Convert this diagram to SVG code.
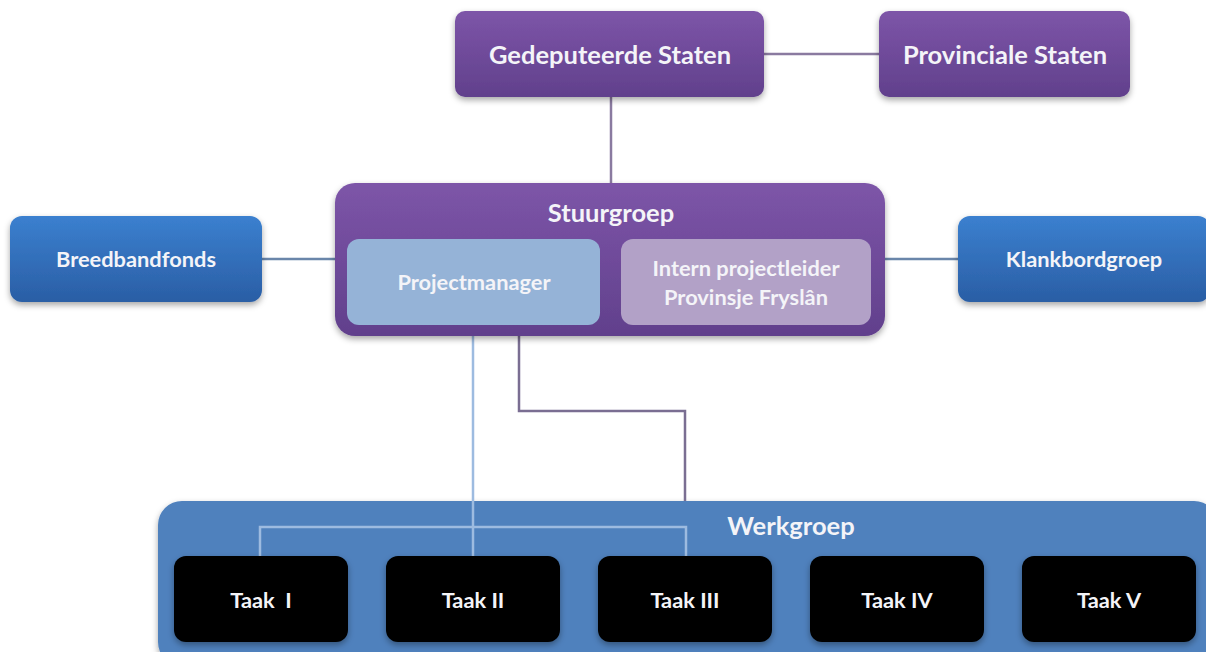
<svg xmlns="http://www.w3.org/2000/svg" width="1206" height="652" viewBox="0 0 1206 652">
<style>
  text { font-family: Lato, "Open Sans", "Liberation Sans", sans-serif; font-weight: bold; fill: #f4f4f8; text-anchor: middle; }
  .t25 { font-size: 25.5px; }
  .t22 { font-size: 21.8px; }
  .conn { fill: none; stroke-width: 2.5; }
</style>
<defs>
  <linearGradient id="gPurple" x1="0" y1="0" x2="0" y2="1">
    <stop offset="0" stop-color="#7d55a8"/>
    <stop offset="1" stop-color="#61408c"/>
  </linearGradient>
  <linearGradient id="gBlue" x1="0" y1="0" x2="0" y2="1">
    <stop offset="0" stop-color="#3b80cf"/>
    <stop offset="1" stop-color="#2a5ea5"/>
  </linearGradient>
  <filter id="sh" x="-10%" y="-10%" width="120%" height="130%">
    <feDropShadow dx="0" dy="3" stdDeviation="3" flood-color="#000" flood-opacity="0.35"/>
  </filter>
</defs>

<g id="connectors">
  <line class="conn" x1="764" y1="54" x2="879" y2="54" stroke="#8a7aa0"/>
  <line class="conn" x1="611" y1="97" x2="611" y2="184" stroke="#8a7aa0"/>
  <line class="conn" x1="262" y1="259" x2="336" y2="259" stroke="#6a86aa"/>
  <line class="conn" x1="884" y1="259" x2="958" y2="259" stroke="#6a86aa"/>
</g>

<g id="werkgroep">
  <rect x="158" y="501" width="1060" height="165" rx="24" fill="#4f81bd" filter="url(#sh)"/>
  <text class="t25" x="791" y="535">Werkgroep</text>
</g>

<g id="connectors-inner">
  <polyline class="conn" points="519,325 519,411 685,411 685,501" stroke="#7a6e92"/>
  <line class="conn" x1="473" y1="325" x2="473" y2="556" stroke="#9dbbe0"/>
  <polyline class="conn" points="260,556 260,527 686,527 686,556" stroke="#9dbbe0"/>
</g>

<g id="gedeputeerde-staten">
  <rect x="455" y="11" width="309" height="86" rx="10" fill="url(#gPurple)" filter="url(#sh)"/>
  <text class="t25" x="610" y="64">Gedeputeerde Staten</text>
</g>
<g id="provinciale-staten">
  <rect x="879" y="11" width="251" height="86" rx="10" fill="url(#gPurple)" filter="url(#sh)"/>
  <text class="t25" x="1005" y="64">Provinciale Staten</text>
</g>

<g id="breedbandfonds">
  <rect x="10" y="216" width="252" height="86" rx="12" fill="url(#gBlue)" filter="url(#sh)"/>
  <text class="t22" x="136" y="267">Breedbandfonds</text>
</g>
<g id="klankbordgroep">
  <rect x="958" y="216" width="252" height="86" rx="12" fill="url(#gBlue)" filter="url(#sh)"/>
  <text class="t22" x="1084" y="267">Klankbordgroep</text>
</g>

<g id="stuurgroep">
  <rect x="335" y="183" width="550" height="153" rx="20" fill="url(#gPurple)" filter="url(#sh)"/>
  <text class="t25" x="611" y="222">Stuurgroep</text>
</g>
<g id="projectmanager">
  <rect x="347" y="239" width="253" height="86" rx="12" fill="#95b3d7"/>
  <text class="t22" x="474" y="290">Projectmanager</text>
</g>
<g id="intern-projectleider">
  <rect x="621" y="239" width="250" height="86" rx="12" fill="#b2a1c7"/>
  <text class="t22" x="746" y="276">Intern projectleider</text>
  <text class="t22" x="746" y="305">Provinsje Fryslân</text>
</g>

<g id="taak1">
  <rect x="174" y="556" width="174" height="86" rx="12" fill="#000" filter="url(#sh)"/>
  <text class="t22" x="261" y="608" xml:space="preserve">Taak  I</text>
</g>
<g id="taak2">
  <rect x="386" y="556" width="174" height="86" rx="12" fill="#000" filter="url(#sh)"/>
  <text class="t22" x="473" y="608">Taak II</text>
</g>
<g id="taak3">
  <rect x="598" y="556" width="174" height="86" rx="12" fill="#000" filter="url(#sh)"/>
  <text class="t22" x="685" y="608">Taak III</text>
</g>
<g id="taak4">
  <rect x="810" y="556" width="174" height="86" rx="12" fill="#000" filter="url(#sh)"/>
  <text class="t22" x="897" y="608">Taak IV</text>
</g>
<g id="taak5">
  <rect x="1022" y="556" width="174" height="86" rx="12" fill="#000" filter="url(#sh)"/>
  <text class="t22" x="1109" y="608">Taak V</text>
</g>
</svg>
